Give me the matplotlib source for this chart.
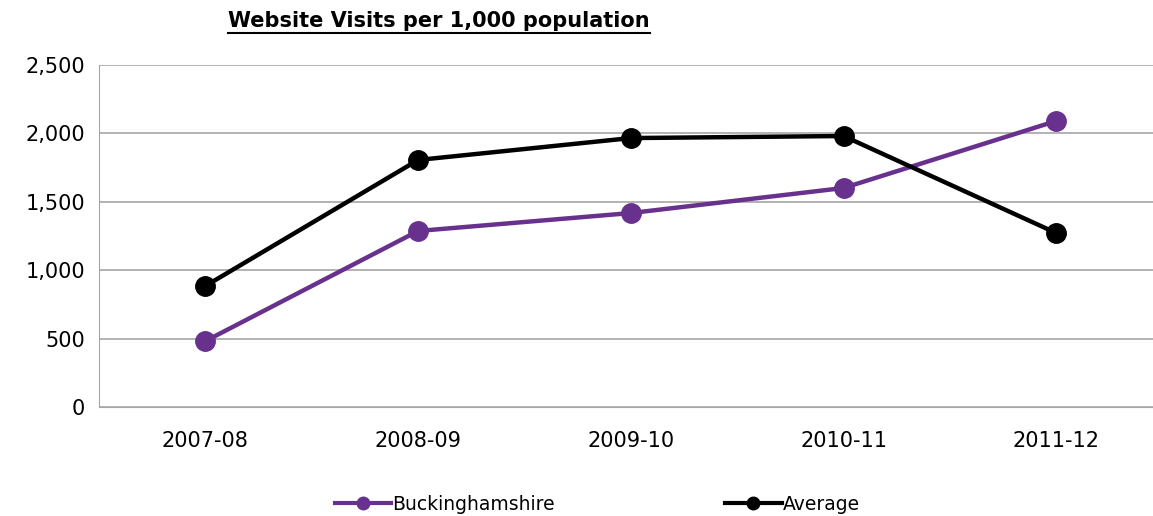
import matplotlib.pyplot as plt
from matplotlib.lines import Line2D
from matplotlib.ticker import FuncFormatter

years = ["2007-08", "2008-09", "2009-10", "2010-11", "2011-12"]
bucks = [482, 1287, 1418, 1601, 2091]
average = [885, 1806, 1966, 1981, 1272]

purple = "#68318e"

fig = plt.figure(figsize=(11.53, 5.16), dpi=100)
ax = fig.add_axes([0.0859, 0.2112, 0.9141, 0.6628])

x = range(len(years))
ax.plot(x, bucks, color=purple, lw=3.2, marker="o", ms=14, zorder=3)
ax.plot(x, average, color="black", lw=3.2, marker="o", ms=14, zorder=3)

ax.set_xlim(-0.5, 4.455)
ax.set_ylim(0, 2500)
ax.set_yticks(range(0, 2501, 500))
ax.yaxis.set_major_formatter(FuncFormatter(lambda v, p: f"{int(v):,}"))
ax.set_xticks(list(x))
ax.set_xticklabels(years)
ax.grid(axis="y", color="#a6a6a6", lw=1.2)
ax.set_axisbelow(True)
for s in ["top", "right"]:
    ax.spines[s].set_visible(False)
ax.spines["left"].set_color("#a6a6a6")
ax.spines["bottom"].set_color("#a6a6a6")
ax.tick_params(axis="both", length=0, labelsize=15, pad=10)
ax.tick_params(axis="x", pad=17)

title = fig.text(0.381, 0.96, "Website Visits per 1,000 population", ha="center", va="center",
                 fontsize=15, fontweight="bold")
fig.canvas.draw()
bb = title.get_window_extent().transformed(fig.transFigure.inverted())
fig.add_artist(Line2D([bb.x0, bb.x1], [bb.y0 - 0.004, bb.y0 - 0.004], color="black", lw=1.5))

handles = [Line2D([], [], color=purple, lw=3, marker="o", ms=9),
           Line2D([], [], color="black", lw=3, marker="o", ms=9)]
fig.legend(handles, ["Buckinghamshire", "Average"], loc="lower center",
           bbox_to_anchor=(0.518, -0.028), ncol=2, frameon=False,
           fontsize=13.5, columnspacing=9.1, handlelength=3, handletextpad=0.05)

fig.savefig("out.png", dpi=100)
